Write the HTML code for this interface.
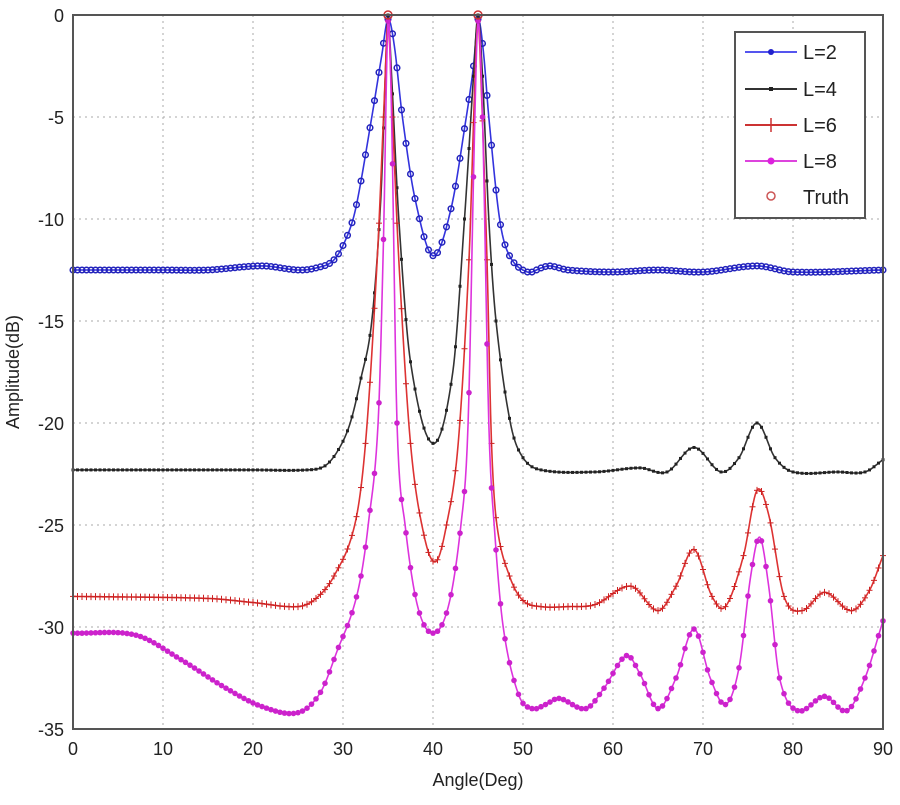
<!DOCTYPE html>
<html><head><meta charset="utf-8"><style>
body{margin:0;background:#fff;width:900px;height:800px;overflow:hidden;font-family:"Liberation Sans",sans-serif}
svg text{font-family:"Liberation Sans",sans-serif;fill:#222}
</style></head><body>
<svg id="s" width="900" height="800" xmlns="http://www.w3.org/2000/svg">
<rect x="0" y="0" width="900" height="800" fill="#fff"/>
<g id="grid"></g>
<g id="curves"></g>
<rect x="73" y="15" width="810" height="714" fill="none" stroke="#555" stroke-width="2"/>
<g id="ticks"></g>
<text x="478" y="786" font-size="18" text-anchor="middle">Angle(Deg)</text>
<text transform="translate(19,372) rotate(-90)" font-size="18" text-anchor="middle">Amplitude(dB)</text>
<rect x="735" y="32" width="130" height="186" fill="#fff" stroke="#555" stroke-width="2"/>
<g font-size="20">
<line x1="745" y1="52" x2="797" y2="52" stroke="#5555ee" stroke-width="2"/><circle cx="771" cy="52" r="3" fill="#2222cc"/><text x="803" y="59">L=2</text>
<line x1="745" y1="89" x2="797" y2="89" stroke="#333" stroke-width="2"/><rect x="769" y="87" width="4" height="4" fill="#222"/><text x="803" y="96">L=4</text>
<line x1="745" y1="125" x2="797" y2="125" stroke="#c33" stroke-width="2"/><line x1="771" y1="118" x2="771" y2="132" stroke="#c33" stroke-width="1.5"/><text x="803" y="132">L=6</text>
<line x1="745" y1="161" x2="797" y2="161" stroke="#d4d" stroke-width="2"/><circle cx="771" cy="161" r="3.5" fill="#d2d"/><text x="803" y="168">L=8</text>
<circle cx="771" cy="196" r="4" fill="none" stroke="#c55" stroke-width="1.5"/><text x="803" y="204">Truth</text>
</g>
</svg>
<script>
const X=a=>73+a*9, Y=d=>15-d*20.4;
const NS="http://www.w3.org/2000/svg";
function el(t,at,p){const e=document.createElementNS(NS,t);for(const k in at)e.setAttribute(k,at[k]);p.appendChild(e);return e;}
const g=document.getElementById('grid'),tk=document.getElementById('ticks'),cv=document.getElementById('curves');
for(let a=0;a<=90;a+=10){if(a>0&&a<90)el('line',{x1:X(a),y1:15,x2:X(a),y2:729,stroke:'#aaa','stroke-dasharray':'2,4'},g);
 el('text',{x:X(a),y:755,'font-size':18,'text-anchor':'middle'},tk).textContent=a;}
for(let d=0;d>=-35;d-=5){if(d<0&&d>-35)el('line',{x1:73,y1:Y(d),x2:883,y2:Y(d),stroke:'#aaa','stroke-dasharray':'2,4'},g);
 el('text',{x:64,y:Y(d)+7,'font-size':18,'text-anchor':'end'},tk).textContent=d;}
const data={
b:[[0,-12.5],[10,-12.5],[15,-12.5],[21,-12.3],[25,-12.5],[27,-12.4],[29,-12],[30.5,-10.8],[31.5,-9.3],[33.2,-5],[34.3,-2],[35,-0.2],[35.7,-1.5],[36.6,-5],[38,-9],[40,-11.8],[42,-9.5],[43.7,-5],[44.5,-2.5],[45,-0.2],[45.6,-1.8],[46.2,-5],[47.4,-10],[48.5,-11.8],[50.5,-12.6],[52,-12.4],[53,-12.3],[55,-12.5],[60,-12.6],[65,-12.5],[70,-12.6],[76,-12.3],[80,-12.6],[90,-12.5]],
k:[[0,-22.3],[20,-22.3],[26,-22.3],[28,-22.1],[29.5,-21.3],[30.8,-20],[32,-17.8],[33.2,-15],[34.2,-9],[34.7,-3],[35,0],[35.4,-3],[36.2,-10],[37.5,-17],[40,-21],[42.2,-17.5],[43.5,-10],[44.5,-3],[45,0],[45.5,-3],[46.2,-10],[47,-15],[48.6,-20],[50,-21.7],[52,-22.3],[58,-22.4],[63,-22.2],[66,-22.4],[69,-21.2],[72,-22.4],[74,-21.7],[76,-20],[78,-21.7],[80,-22.4],[85,-22.4],[88,-22.4],[90,-21.8]],
r:[[0,-28.5],[15,-28.6],[20,-28.8],[25,-29],[27,-28.6],[29,-27.5],[31.3,-25],[32.5,-21],[33.8,-12],[34.6,-4],[35,-0.3],[35.4,-4],[36.2,-12],[37.5,-21],[39,-25.5],[40.3,-26.8],[41.5,-25],[42.8,-21],[44,-12],[44.6,-4],[45,-0.3],[45.4,-4],[46,-12],[46.5,-21],[47.1,-25],[48.5,-27.5],[50,-28.7],[52,-29],[55,-29],[58,-28.9],[62,-28],[65,-29.2],[67,-28],[69,-26.2],[71,-28.5],[72.5,-29],[74.5,-26.5],[76,-23.3],[77.3,-24.5],[79,-28.5],[81,-29.2],[83.5,-28.3],[86.5,-29.2],[88.5,-28.2],[90,-26.5]],
m:[[0,-30.3],[7,-30.4],[12,-31.6],[17,-33],[21,-33.9],[25,-34.2],[27.5,-33.2],[29.5,-31],[31,-29.3],[32,-27.5],[32.8,-25],[33.9,-20],[34.5,-11],[35,-0.3],[35.4,-5],[36,-20],[36.9,-25],[38.3,-29],[40,-30.3],[41.7,-29],[43.1,-25],[43.9,-20],[44.6,-6],[45,-0.3],[45.5,-5],[46.2,-20],[46.8,-25],[47.8,-30],[49.5,-33.3],[51,-34],[52.5,-33.8],[54,-33.5],[57,-34],[59,-33],[61.5,-31.4],[63,-32.3],[65,-34],[67,-32.5],[69,-30.1],[70.8,-32.5],[72.5,-33.8],[74,-32],[75.3,-27.5],[76.3,-25.6],[77.3,-28],[78.5,-32.5],[80.5,-34.1],[83.5,-33.4],[86,-34.1],[88,-32.5],[90,-29.7]]};
function interp(pts,a){for(let i=0;i<pts.length-1;i++){const p0=pts[Math.max(0,i-1)],p1=pts[i],p2=pts[i+1],p3=pts[Math.min(pts.length-1,i+2)];
 if(a>=p1[0]&&a<=p2[0]){const t=(a-p1[0])/(p2[0]-p1[0]);const h=p2[0]-p1[0];
 const m1=(p2[1]-p0[1])/(p2[0]-p0[0]||1)*h, m2=(p3[1]-p1[1])/(p3[0]-p1[0]||1)*h;
 const t2=t*t,t3=t2*t;return (2*t3-3*t2+1)*p1[1]+(t3-2*t2+t)*m1+(-2*t3+3*t2)*p2[1]+(t3-t2)*m2;}}return pts[pts.length-1][1];}
const sty={b:['#3333dd','#2222bb'],k:['#333','#222'],r:['#dd3333','#cc2222'],m:['#dd33dd','#cc22cc']};
for(const k of ['b','k','r','m']){let d='';const pts=[];for(let a=0;a<=90.001;a+=0.1){const y=Math.min(0,interp(data[k],a));pts.push([X(a),Y(y)]);}
 d='M'+pts.map(p=>p[0].toFixed(1)+','+p[1].toFixed(1)).join('L');
 el('path',{d,fill:'none',stroke:sty[k][0],'stroke-width':1.6},cv);
 for(let a=0;a<=90.001;a+=0.5){const x=X(a),y=Y(Math.min(0,interp(data[k],a)));
  if(k=='b')el('circle',{cx:x,cy:y,r:2.8,fill:'none',stroke:sty[k][1],'stroke-width':1.5},cv);
  else if(k=='k')el('rect',{x:x-1.5,y:y-1.5,width:3,height:3,fill:sty[k][1]},cv);
  else if(k=='r'){el('line',{x1:x-3,y1:y,x2:x+3,y2:y,stroke:sty[k][1]},cv);el('line',{x1:x,y1:y-3.5,x2:x,y2:y+3.5,stroke:sty[k][1]},cv);}
  else el('circle',{cx:x,cy:y,r:2.8,fill:sty[k][1]},cv);}}
for(const a of [35,45])el('circle',{cx:X(a),cy:Y(0),r:4,fill:'none',stroke:'#c33','stroke-width':1.5},cv);
</script>
</body></html>
